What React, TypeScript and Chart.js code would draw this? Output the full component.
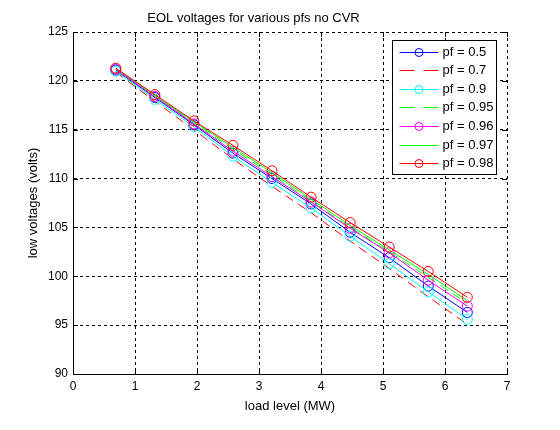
import React, { useEffect, useRef } from "react";
import { Chart, registerables } from "chart.js";

Chart.register(...registerables);

// ---- data ----
const loadMW = [0.69, 1.32, 1.95, 2.58, 3.21, 3.84, 4.47, 5.1, 5.73, 6.36];
const pf050 = [121.1, 118.3, 115.5, 112.6, 110.0, 107.4, 104.5, 101.9, 99.0, 96.3];
const pf070 = [120.9, 117.9, 115.0, 112.0, 109.2, 106.5, 103.6, 100.8, 97.9, 95.1];
const pf090 = [121.0, 118.1, 115.3, 112.3, 109.6, 107.0, 104.1, 101.3, 98.4, 95.6];
const pf095 = [121.2, 118.4, 115.7, 113.0, 110.4, 107.7, 105.0, 102.5, 99.9, 97.2];
const pf096 = [121.2, 118.4, 115.6, 112.8, 110.2, 107.6, 104.9, 102.4, 99.6, 96.95];
const pf097 = [121.3, 118.5, 115.8, 113.2, 110.6, 107.9, 105.2, 102.7, 100.2, 97.5];
const pf098 = [121.3, 118.6, 115.9, 113.4, 110.8, 108.1, 105.5, 103.0, 100.5, 97.85];

const seriesLabels = ["pf = 0.5", "pf = 0.7", "pf = 0.9", "pf = 0.95", "pf = 0.96", "pf = 0.97", "pf = 0.98"];
const seriesValues = [pf050, pf070, pf090, pf095, pf096, pf097, pf098];
const seriesColors = ["#0000ff", "#ff0000", "#00ffff", "#00ff00", "#ff00ff", "#00ff00", "#ff0000"];
const seriesDashed = [false, true, false, true, false, false, false];
const seriesMarkers = [true, false, true, false, true, false, true];

const xTickValues = [0, 1, 2, 3, 4, 5, 6, 7];
const yTickValues = [90, 95, 100, 105, 110, 115, 120, 125];

const titleText = "EOL voltages for various pfs no CVR";
const xTitle = "load level (MW)";
const yTitle = "low voltages (volts)";

const FONT = "'Liberation Sans', Arial, sans-serif";

const innerTicks = {
  id: "innerTicks",
  afterDatasetsDraw(chart: any) {
    const { ctx, chartArea: a, scales } = chart;
    ctx.save();
    ctx.strokeStyle = "#000";
    ctx.lineWidth = 1;
    ctx.setLineDash([]);
    ctx.beginPath();
    xTickValues.forEach((v) => {
      const x = Math.round(scales.x.getPixelForValue(v)) + 0.5;
      ctx.moveTo(x, a.bottom);
      ctx.lineTo(x, a.bottom - 5);
      ctx.moveTo(x, a.top);
      ctx.lineTo(x, a.top + 5);
    });
    yTickValues.forEach((v) => {
      const y = Math.round(scales.y.getPixelForValue(v)) + 0.5;
      ctx.moveTo(a.left, y);
      ctx.lineTo(a.left + 5, y);
      ctx.moveTo(a.right, y);
      ctx.lineTo(a.right - 5, y);
    });
    ctx.stroke();
    ctx.restore();
  },
};

const boxLegend = {
  id: "boxLegend",
  afterDraw(chart: any) {
    const { ctx, chartArea: a } = chart;
    const w = 104;
    const h = 134;
    const left = Math.round(a.right - 11 - w) + 0.5;
    const top = Math.round(a.top + 8) + 0.5;
    ctx.save();
    ctx.fillStyle = "#fff";
    ctx.fillRect(left, top, w, h);
    ctx.strokeStyle = "#000";
    ctx.lineWidth = 1;
    ctx.setLineDash([]);
    ctx.strokeRect(left, top, w, h);
    ctx.font = `13px ${FONT}`;
    ctx.textBaseline = "middle";
    ctx.textAlign = "left";
    seriesLabels.forEach((label, i) => {
      const y = Math.round(top + 11 + i * 18.6) + 0.5;
      const x0 = left + 7;
      const x1 = left + 46;
      ctx.strokeStyle = seriesColors[i];
      ctx.setLineDash(seriesDashed[i] ? [15, 9] : []);
      ctx.beginPath();
      ctx.moveTo(x0, y);
      ctx.lineTo(x1, y);
      ctx.stroke();
      ctx.setLineDash([]);
      if (seriesMarkers[i]) {
        ctx.beginPath();
        ctx.arc((x0 + x1) / 2, y, 4, 0, Math.PI * 2);
        ctx.stroke();
      }
      ctx.fillStyle = "#000";
      ctx.fillText(label, left + 50, y);
    });
    ctx.restore();
  },
};

export default function App() {
  const ref = useRef<HTMLCanvasElement | null>(null);

  useEffect(() => {
    if (!ref.current) return;
    const datasets = seriesLabels.map((label, i) => ({
      label,
      data: loadMW.map((x, k) => ({ x, y: seriesValues[i][k] })),
      borderColor: seriesColors[i],
      backgroundColor: seriesColors[i],
      borderWidth: 1,
      borderDash: seriesDashed[i] ? [9, 6] : [],
      pointRadius: seriesMarkers[i] ? 5 : 0,
      pointHoverRadius: seriesMarkers[i] ? 5 : 0,
      pointStyle: "circle",
      pointBackgroundColor: "rgba(0,0,0,0)",
      pointBorderColor: seriesColors[i],
      pointBorderWidth: 1,
      fill: false,
      tension: 0,
      order: seriesLabels.length - i,
    }));

    const chart = new Chart(ref.current, {
      type: "line",
      data: { datasets },
      plugins: [innerTicks, boxLegend],
      options: {
        responsive: false,
        animation: false,
        devicePixelRatio: 1,
        layout: { padding: { top: 0, right: 53, left: 0, bottom: 0 } },
        plugins: {
          legend: { display: false },
          tooltip: { enabled: false },
          title: {
            display: true,
            text: titleText,
            color: "#000",
            font: { family: FONT, size: 13, weight: "normal" },
            padding: { top: 11, bottom: 5.4 },
          },
        },
        scales: {
          x: {
            type: "linear",
            min: 0,
            max: 7,
            afterBuildTicks: (s: any) => {
              s.ticks = xTickValues.map((v) => ({ value: v }));
            },
            afterFit: (s: any) => {
              s.height = 56;
            },
            ticks: {
              color: "#000",
              font: { family: FONT, size: 12 },
              padding: 5,
              maxRotation: 0,
            },
            grid: { color: "#000", lineWidth: 1, drawTicks: false },
            border: { display: true, color: "#000", width: 1, dash: [3, 3] },
            title: {
              display: true,
              text: xTitle,
              color: "#000",
              font: { family: FONT, size: 13 },
              padding: { top: 0, bottom: 16 },
            },
          },
          y: {
            type: "linear",
            min: 90,
            max: 125,
            afterBuildTicks: (s: any) => {
              s.ticks = yTickValues.map((v) => ({ value: v }));
            },
            afterFit: (s: any) => {
              s.width = 73;
            },
            ticks: {
              color: "#000",
              font: { family: FONT, size: 12 },
              padding: 5,
            },
            grid: { color: "#000", lineWidth: 1, drawTicks: false },
            border: { display: true, color: "#000", width: 1, dash: [3, 3] },
            title: {
              display: true,
              text: yTitle,
              color: "#000",
              font: { family: FONT, size: 13 },
              padding: { top: 26, bottom: 0 },
            },
          },
        },
      },
    } as any);

    return () => chart.destroy();
  }, []);

  return (
    <div style={{ position: "absolute", left: 0, top: 0, width: 560, height: 430, background: "#fff" }}>
      <canvas ref={ref} width={560} height={430} style={{ display: "block", width: 560, height: 430 }} />
    </div>
  );
}
